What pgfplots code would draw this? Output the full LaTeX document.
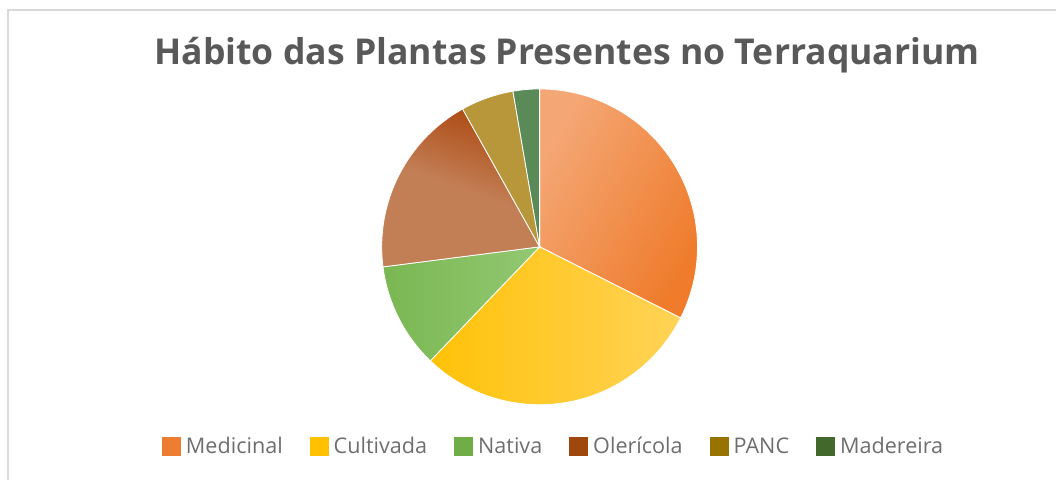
\documentclass[border=0pt]{standalone}
\usepackage{fontspec}
\setmainfont{Open Sans}
\usepackage{pgfplots}
\usepackage{pgfplotstable}
\pgfplotsset{compat=1.18}
\definecolor{titlec}{HTML}{595959}
\definecolor{legc}{HTML}{6E6E6E}
\definecolor{cMed}{HTML}{ED7D31}
\definecolor{cCul}{HTML}{FFC000}
\definecolor{cNat}{HTML}{70AD47}
\definecolor{cOle}{HTML}{9E480E}
\definecolor{cPan}{HTML}{997300}
\definecolor{cMad}{HTML}{43682B}
\definecolor{medL}{HTML}{F4A775}
\definecolor{medD}{HTML}{EF7B2B}
\definecolor{culD}{HTML}{FFC208}
\definecolor{culL}{HTML}{FFD357}
\definecolor{natD}{HTML}{7AB752}
\definecolor{natL}{HTML}{93C872}
\definecolor{oleD}{HTML}{AD4A12}
\definecolor{oleL}{HTML}{C27E55}
\definecolor{panF}{HTML}{B8963A}
\definecolor{madF}{HTML}{5A8A58}
\pgfplotstableread{
name value
Medicinal 12
Cultivada 11
Nativa 4
Olericola 7
PANC 2
Madereira 1
}\piedata
\pgfplotstablegetelem{0}{value}\of\piedata \let\vA\pgfplotsretval
\pgfplotstablegetelem{1}{value}\of\piedata \let\vB\pgfplotsretval
\pgfplotstablegetelem{2}{value}\of\piedata \let\vC\pgfplotsretval
\pgfplotstablegetelem{3}{value}\of\piedata \let\vD\pgfplotsretval
\pgfplotstablegetelem{4}{value}\of\piedata \let\vE\pgfplotsretval
\pgfplotstablegetelem{5}{value}\of\piedata \let\vF\pgfplotsretval
\pgfmathsetmacro\tot{\vA+\vB+\vC+\vD+\vE+\vF}
\pgfmathsetmacro\aA{90}
\pgfmathsetmacro\aB{\aA-360*\vA/\tot}
\pgfmathsetmacro\aC{\aB-360*\vB/\tot}
\pgfmathsetmacro\aD{\aC-360*\vC/\tot}
\pgfmathsetmacro\aE{\aD-360*\vD/\tot}
\pgfmathsetmacro\aF{\aE-360*\vE/\tot}
\pgfmathsetmacro\aG{\aF-360*\vF/\tot}
\def\cx{540}\def\cy{233}\def\R{158}
\begin{document}
\begin{tikzpicture}
\begin{axis}[
  scale only axis, width=528.5pt, height=240pt,
  xmin=0, xmax=1057, ymin=0, ymax=480,
  hide axis, clip=false,
  legend columns=6,
  legend style={draw=none, fill=none, font=\fontsize{10.8}{12}\selectfont, text=legc,
    at={(0.5232,0.06875)}, anchor=center, inner sep=0pt,
    nodes={inner sep=0pt},
    /tikz/every odd column/.append style={column sep=2.5pt},
    /tikz/every even column/.append style={column sep=13.5pt}},
  legend image code/.code={\fill[#1, draw=none] (0pt,-4.75pt) rectangle (9.5pt,4.75pt);},
]
\path (axis cs:0,0) rectangle (axis cs:1057,480);
\addplot[forget plot, draw=white, line width=0.4pt, left color=medL, middle color=medL, right color=medD, shading angle=60, domain=\aB:\aA, samples=80, variable=\t]
  ({\cx+\R*cos(\t)},{\cy+\R*sin(\t)}) -- (axis cs:\cx,\cy) -- cycle;
\addplot[forget plot, draw=white, line width=0.4pt, left color=culD, right color=culL, shading angle=90, domain=\aC:\aB, samples=80, variable=\t]
  ({\cx+\R*cos(\t)},{\cy+\R*sin(\t)}) -- (axis cs:\cx,\cy) -- cycle;
\addplot[forget plot, draw=white, line width=0.4pt, left color=natD, right color=natL, shading angle=90, domain=\aD:\aC, samples=60, variable=\t]
  ({\cx+\R*cos(\t)},{\cy+\R*sin(\t)}) -- (axis cs:\cx,\cy) -- cycle;
\addplot[forget plot, draw=white, line width=0.4pt, top color=oleD, bottom color=oleL, middle color=oleL, shading angle=-20, domain=\aE:\aD, samples=60, variable=\t]
  ({\cx+\R*cos(\t)},{\cy+\R*sin(\t)}) -- (axis cs:\cx,\cy) -- cycle;
\addplot[forget plot, draw=white, line width=0.4pt, fill=panF, domain=\aF:\aE, samples=30, variable=\t]
  ({\cx+\R*cos(\t)},{\cy+\R*sin(\t)}) -- (axis cs:\cx,\cy) -- cycle;
\addplot[forget plot, draw=white, line width=0.4pt, fill=madF, domain=\aG:\aF, samples=30, variable=\t]
  ({\cx+\R*cos(\t)},{\cy+\R*sin(\t)}) -- (axis cs:\cx,\cy) -- cycle;
\addlegendimage{fill=cMed}
\addlegendimage{fill=cCul}
\addlegendimage{fill=cNat}
\addlegendimage{fill=cOle}
\addlegendimage{fill=cPan}
\addlegendimage{fill=cMad}
\legend{Medicinal, Cultivada, Nativa, Olerícola, PANC, Madereira}
\draw[color=black!15, line width=0.75pt] (axis cs:8,0) -- (axis cs:8,470) -- (axis cs:1057,470);
\node[anchor=base, text=titlec, font=\bfseries\fontsize{17.8}{21}\selectfont] at (axis cs:567.5,415) {Hábito das Plantas Presentes no Terraquarium};
\end{axis}
\end{tikzpicture}
\end{document}
